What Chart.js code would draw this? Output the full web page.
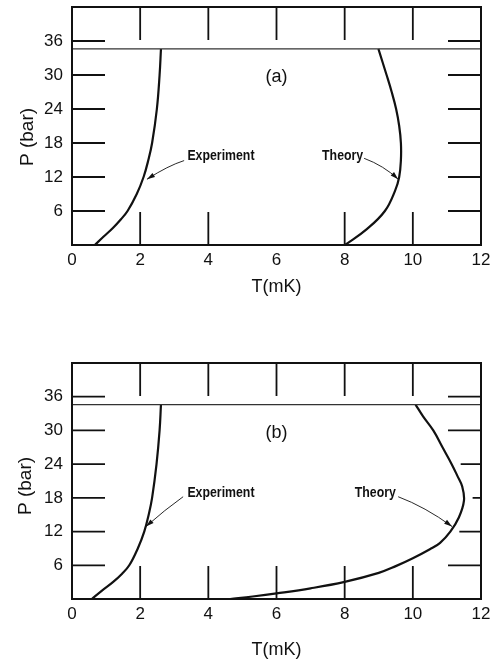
<!DOCTYPE html>
<html>
<head>
<meta charset="utf-8">
<script src="https://cdn.jsdelivr.net/npm/chart.js@4/dist/chart.umd.min.js"></script>
<style>
html, body { margin: 0; padding: 0; background: #fff; }
#wrapA { position: absolute; left: 0; top: 0; width: 491px; height: 310px; }
#wrapB { position: absolute; left: 0; top: 310px; width: 491px; height: 352px; }
</style>
</head>
<body>
<div id="wrapA"><canvas id="chartA"></canvas></div>
<div id="wrapB"><canvas id="chartB"></canvas></div>
<script>
// values: T in mK, P in bar
const xTicks = [0, 2, 4, 6, 8, 10, 12];
const yTicks = [6, 12, 18, 24, 30, 36];
const meltP = 34.6;

const expA_T = [0.67, 0.93, 1.20, 1.43, 1.63, 1.90, 2.10, 2.24, 2.35, 2.49, 2.57, 2.61];
const expA_P = [0, 1.5, 3, 4.5, 6, 9, 12, 15, 18, 24, 30, 34.6];
const theoA_T = [8.01, 8.65, 9.18, 9.48, 9.60, 9.65, 9.65, 9.60, 9.51, 9.38, 9.23, 8.99];
const theoA_P = [0, 2.8, 6, 9.6, 12, 15, 18, 21, 24, 27, 30, 34.6];

const expB_T = [0.58, 0.88, 1.20, 1.47, 1.68, 1.93, 2.12, 2.25, 2.35, 2.48, 2.57, 2.61];
const expB_P = [0, 1.5, 3, 4.5, 6, 9, 12, 15, 18, 24, 30, 34.6];
const theoB_T = [4.64, 5.3, 6.0, 7.0, 8.0, 9.0, 9.5, 10.0, 10.5, 10.8, 11.1, 11.35, 11.5, 11.45, 11.3, 11.14, 10.87, 10.6, 10.3, 10.08];
const theoB_P = [0, 0.45, 1.0, 1.9, 3.05, 4.65, 5.85, 7.25, 8.85, 10.0, 12.0, 14.5, 17.5, 20, 22, 24, 27, 30, 32.5, 34.6];

const ink = '#111';
const FONT = "'Liberation Sans', Arial, sans-serif";
const NOTE_FONT = "bold 14px 'Liberation Sans', Arial, sans-serif";

function pts(xs, ys) {
	return xs.map((v, i) => ({x: v, y: ys[i]}));
}

// largest T of the theory curve at pressure p (linear between read points)
function curveT(data, p) {
	let best = -Infinity;
	for (let i = 1; i < data.length; i++) {
		const a = data[i - 1], b = data[i];
		if ((a.y - p) * (b.y - p) <= 0 && a.y !== b.y) {
			best = Math.max(best, a.x + (b.x - a.x) * (p - a.y) / (b.y - a.y));
		}
	}
	return best;
}

// inward tick marks, frame, axis title and the hand-lettered notes
const figureMarks = {
	id: 'figureMarks',
	beforeDatasetsDraw(chart, args, opts) {
		const {ctx, chartArea: a, scales: {x, y}} = chart;
		const len = 33;
		const theory = chart.data.datasets[2].data;
		ctx.save();
		ctx.strokeStyle = ink;
		ctx.lineWidth = 1.8;
		ctx.beginPath();
		x.ticks.forEach(t => {
			if (t.value <= x.min || t.value >= x.max) return;
			const px = x.getPixelForValue(t.value);
			ctx.moveTo(px, a.top); ctx.lineTo(px, a.top + len);
			if (opts.noBottomTick.indexOf(t.value) < 0) {
				ctx.moveTo(px, a.bottom); ctx.lineTo(px, a.bottom - len);
			}
		});
		y.ticks.forEach(t => {
			if (t.value <= y.min || t.value >= y.max) return;
			const py = y.getPixelForValue(t.value);
			ctx.moveTo(a.left, py); ctx.lineTo(a.left + len, py);
			// right-hand ticks stop short of the theory curve
			const ct = curveT(theory, t.value);
			const start = Math.max(a.right - len, isFinite(ct) ? x.getPixelForValue(ct) + 9 : 0);
			ctx.moveTo(a.right, py); ctx.lineTo(start, py);
		});
		ctx.stroke();
		ctx.restore();
	},
	afterDatasetsDraw(chart, args, opts) {
		const {ctx, chartArea: a, scales: {x, y}} = chart;
		ctx.save();
		ctx.strokeStyle = ink;
		ctx.lineWidth = 2;
		ctx.strokeRect(a.left, a.top, a.right - a.left, a.bottom - a.top);

		ctx.fillStyle = ink;
		ctx.textAlign = 'center';
		ctx.textBaseline = 'middle';

		// y axis title, set a little below the middle as in the original
		ctx.save();
		ctx.translate(opts.yTitleX, (a.top + a.bottom) / 2 + opts.yTitleShift);
		ctx.rotate(-Math.PI / 2);
		ctx.font = '19px ' + FONT;
		ctx.fillText('P (bar)', 0, 0);
		ctx.restore();

		ctx.font = '18px ' + FONT;
		ctx.fillText(opts.tag, x.getPixelForValue(opts.tagAt[0]), y.getPixelForValue(opts.tagAt[1]));

		ctx.font = NOTE_FONT;
		opts.notes.forEach(n => {
			ctx.save();
			ctx.translate(x.getPixelForValue(n.at[0]), y.getPixelForValue(n.at[1]));
			ctx.scale(0.88, 1);
			ctx.fillText(n.text, 0, 0);
			ctx.restore();
		});

		ctx.lineWidth = 0.9;
		opts.arrows.forEach(ar => {
			const x0 = x.getPixelForValue(ar.from[0]), y0 = y.getPixelForValue(ar.from[1]);
			const cx = x.getPixelForValue(ar.ctrl[0]), cy = y.getPixelForValue(ar.ctrl[1]);
			const x1 = x.getPixelForValue(ar.to[0]), y1 = y.getPixelForValue(ar.to[1]);
			ctx.beginPath();
			ctx.moveTo(x0, y0);
			ctx.quadraticCurveTo(cx, cy, x1, y1);
			ctx.stroke();
			const ang = Math.atan2(y1 - cy, x1 - cx);
			ctx.beginPath();
			ctx.moveTo(x1, y1);
			ctx.lineTo(x1 - 8 * Math.cos(ang) + 2.4 * Math.sin(ang), y1 - 8 * Math.sin(ang) - 2.4 * Math.cos(ang));
			ctx.lineTo(x1 - 8 * Math.cos(ang) - 2.4 * Math.sin(ang), y1 - 8 * Math.sin(ang) + 2.4 * Math.cos(ang));
			ctx.closePath();
			ctx.fill();
		});
		ctx.restore();
	}
};

function makeChart(id, exp, theo, marks, lay) {
	const ctx = document.getElementById(id).getContext('2d');
	return new Chart(ctx, {
		type: 'line',
		data: {
			datasets: [{
				label: 'melting',
				data: [{x: 0, y: meltP}, {x: 12, y: meltP}],
				borderColor: '#333',
				borderWidth: 1.3,
				pointRadius: 0,
				tension: 0
			}, {
				label: 'Experiment',
				data: exp,
				borderColor: ink,
				borderWidth: 2.2,
				pointRadius: 0,
				tension: 0.4,
				cubicInterpolationMode: 'default'
			}, {
				label: 'Theory',
				data: theo,
				borderColor: ink,
				borderWidth: 2.2,
				pointRadius: 0,
				tension: 0.4,
				cubicInterpolationMode: 'default'
			}]
		},
		options: {
			responsive: true,
			maintainAspectRatio: false,
			animation: false,
			elements: {line: {tension: 0.4, capBezierPoints: false}},
			layout: {padding: {top: lay.top, right: 10, left: 0, bottom: 0}},
			plugins: {
				legend: {display: false},
				tooltip: {enabled: false},
				figureMarks: marks
			},
			scales: {
				x: {
					type: 'linear',
					min: 0, max: 12,
					grid: {display: false, drawTicks: false},
					border: {display: false},
					afterBuildTicks: s => { s.ticks = xTicks.map(v => ({value: v})); },
					afterFit: s => { s.height = lay.xh; s.paddingLeft = 0; s.paddingRight = 0; },
					ticks: {color: ink, padding: 5, font: {family: FONT, size: 17}},
					title: {display: true, text: 'T(mK)', color: ink, font: {family: FONT, size: 18}, padding: {top: 0, bottom: lay.tpad}}
				},
				y: {
					type: 'linear',
					min: 0, max: 42,
					grid: {display: false, drawTicks: false},
					border: {display: false},
					afterBuildTicks: s => { s.ticks = yTicks.map(v => ({value: v})); },
					afterFit: s => { s.width = 72; s.paddingTop = 0; s.paddingBottom = 0; },
					ticks: {color: ink, padding: 9, font: {family: FONT, size: 17}}
				}
			}
		},
		plugins: [figureMarks]
	});
}

makeChart('chartA', pts(expA_T, expA_P), pts(theoA_T, theoA_P), {
	tag: '(a)', tagAt: [6, 29.6],
	yTitleX: 27.5, yTitleShift: 11,
	noBottomTick: [6],
	notes: [{text: 'Experiment', at: [4.37, 15.6]}, {text: 'Theory', at: [7.94, 15.6]}],
	arrows: [
		{from: [3.29, 14.9], ctrl: [2.82, 14.0], to: [2.20, 11.6]},
		{from: [8.57, 15.3], ctrl: [9.15, 14.0], to: [9.57, 11.6]}
	]
}, {top: 7, xh: 65, tpad: 12});

makeChart('chartB', pts(expB_T, expB_P), pts(theoB_T, theoB_P), {
	tag: '(b)', tagAt: [6, 29.6],
	yTitleX: 25.5, yTitleShift: 5,
	noBottomTick: [],
	notes: [{text: 'Experiment', at: [4.37, 18.8]}, {text: 'Theory', at: [8.9, 18.8]}],
	arrows: [
		{from: [3.26, 18.2], ctrl: [2.73, 15.9], to: [2.17, 12.9]},
		{from: [9.57, 18.2], ctrl: [10.36, 16.4], to: [11.15, 12.9]}
	]
}, {top: 53, xh: 63, tpad: 1});
</script>
</body>
</html>
